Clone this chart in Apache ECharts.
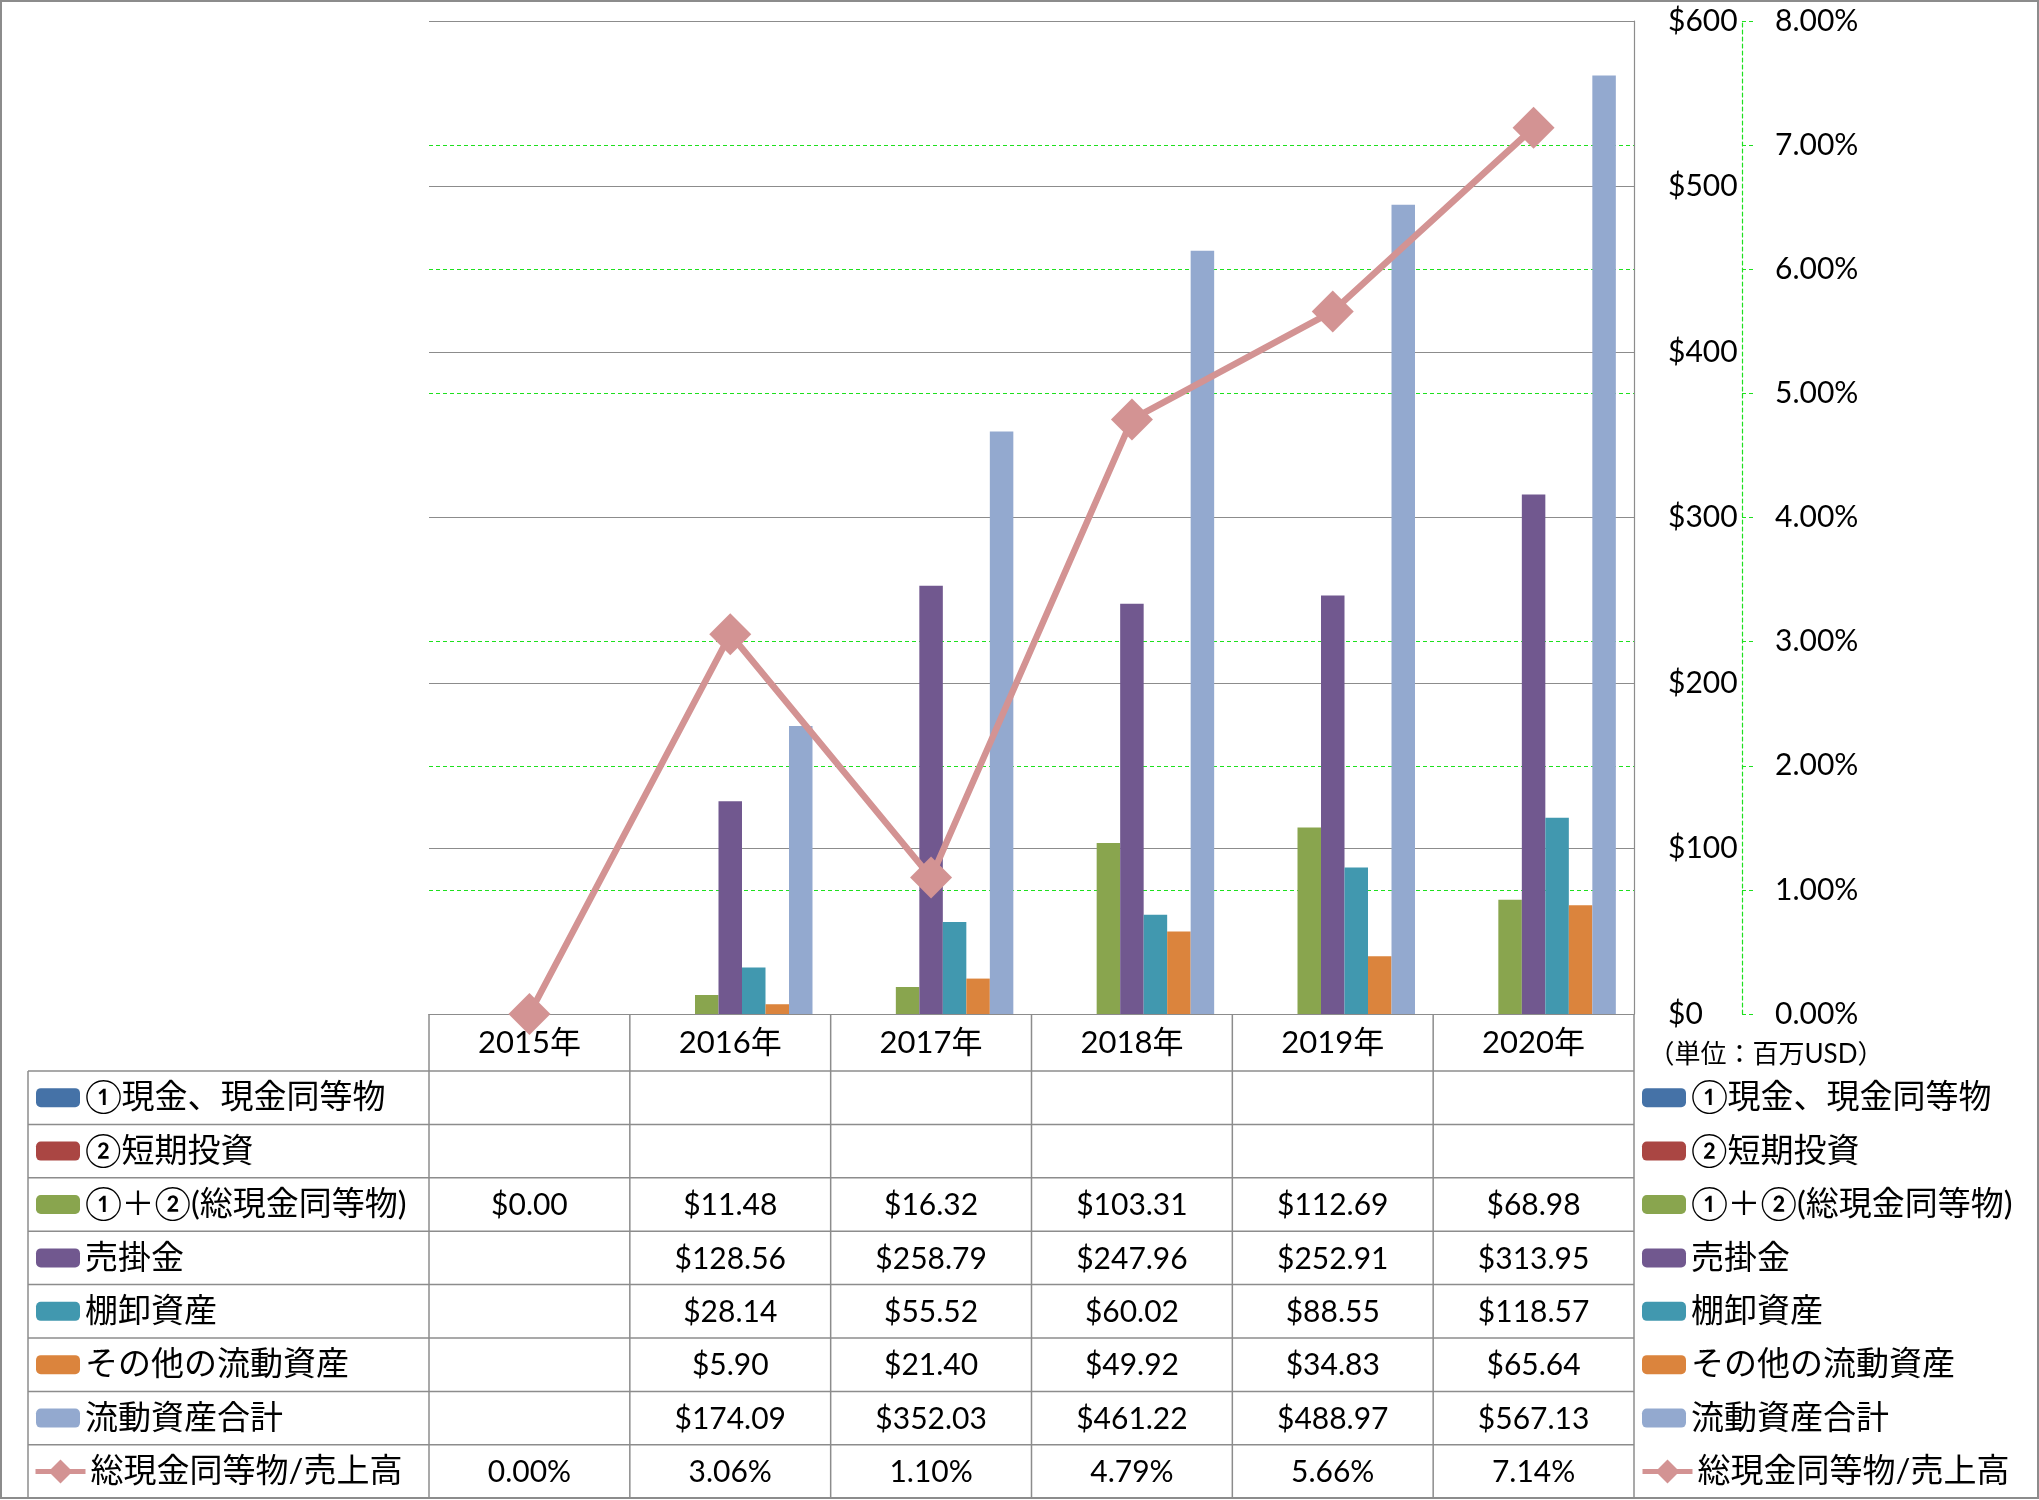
<!DOCTYPE html>
<html><head><meta charset="utf-8">
<script src="https://cdn.jsdelivr.net/npm/echarts@6/dist/echarts.min.js"></script>
<style>html,body{margin:0;padding:0;background:#fff}#c{width:2039px;height:1500px}</style>
</head><body><div id="c"></div>
<script>
const categories = ['2015年','2016年','2017年','2018年','2019年','2020年'];
const seriesNames = ['①現金、現金同等物','②短期投資','①＋②(総現金同等物)','売掛金','棚卸資産','その他の流動資産','流動資産合計','総現金同等物/売上高'];
const cashEquivalents = [null, null, null, null, null, null];
const shortTermInvestments = [null, null, null, null, null, null];
const totalCash = [0.00, 11.48, 16.32, 103.31, 112.69, 68.98];
const receivables = [null, 128.56, 258.79, 247.96, 252.91, 313.95];
const inventory = [null, 28.14, 55.52, 60.02, 88.55, 118.57];
const otherCurrentAssets = [null, 5.90, 21.40, 49.92, 34.83, 65.64];
const totalCurrentAssets = [null, 174.09, 352.03, 461.22, 488.97, 567.13];
const cashToSales = [0.00, 3.06, 1.10, 4.79, 5.66, 7.14];
const unitLabel = '（単位：百万USD）';

const colors = ['#4572A7','#AA4643','#89A54E','#71588F','#4198AF','#DB843D','#93A9CF','#D39393'];
const barData = [cashEquivalents, shortTermInvestments, totalCash, receivables, inventory, otherCurrentAssets, totalCurrentAssets];
const FONT = "Lato, 'Noto Sans CJK JP', sans-serif";
const GREEN = '#1EE01E';
const GRID = {left: 429, right: 405, top: 21, bottom: 486};
const HEADER_BOTTOM = 1071, ROW_H = 53.4, TABLE_LEFT = 28;

const chart = echarts.init(document.getElementById('c'), null, {renderer: 'canvas'});
const series = barData.map((d, i) => ({
  name: seriesNames[i], type: 'bar', data: d, barWidth: 23.5, barGap: '0%',
  itemStyle: {color: colors[i]}, yAxisIndex: 0
}));
series.push({
  name: seriesNames[7], type: 'line', data: cashToSales, yAxisIndex: 1,
  symbol: 'diamond', symbolSize: 42, z: 5,
  lineStyle: {color: colors[7], width: 6.5}, itemStyle: {color: colors[7]}
});
const textStyle = {fontSize: 33, lineHeight: 36, color: '#000', fontFamily: FONT};
const barLegend = {
  orient: 'vertical', top: HEADER_BOTTOM + (ROW_H - 36) / 2, padding: 0,
  itemGap: ROW_H - 36, itemWidth: 44, itemHeight: 19, data: seriesNames.slice(0, 7), textStyle
};
const lineLegend = {
  orient: 'vertical', top: HEADER_BOTTOM + 7 * ROW_H + (ROW_H - 36) / 2, padding: 0,
  itemWidth: 50, itemHeight: 30, data: seriesNames.slice(7), textStyle,
  lineStyle: {width: 5}
};
chart.setOption({
  animation: false,
  backgroundColor: '#fff',
  grid: GRID,
  legend: [
    Object.assign({left: 36}, barLegend), Object.assign({left: 33}, lineLegend),
    Object.assign({left: 1642}, barLegend), Object.assign({left: 1640}, lineLegend)
  ],
  xAxis: {
    type: 'category', data: categories,
    axisLine: {show: true, lineStyle: {color: '#8c8c8c', width: 1.2}},
    axisTick: {show: false},
    axisLabel: {margin: 29, verticalAlign: 'middle', fontSize: 31, color: '#000', fontFamily: FONT}
  },
  yAxis: [{
    type: 'value', position: 'right', min: 0, max: 600, interval: 100,
    axisLine: {show: true, lineStyle: {color: '#8c8c8c', width: 1.2}},
    axisTick: {show: false},
    splitLine: {show: true, lineStyle: {color: '#8c8c8c', width: 1.2}},
    axisLabel: {margin: 34, align: 'left', fontSize: 30, color: '#000', fontFamily: FONT,
      formatter: v => '$' + v}
  }, {
    type: 'value', position: 'right', offset: 108, min: 0, max: 8, interval: 1,
    axisLine: {show: true, lineStyle: {color: GREEN, width: 1.2, type: [4, 3]}},
    axisTick: {show: true, length: 11, lineStyle: {color: GREEN, width: 1.2, type: [4, 3]}},
    splitLine: {show: true, lineStyle: {color: ['transparent', GREEN, GREEN, GREEN], width: 1.2, type: [4, 3]}},
    axisLabel: {margin: 33, align: 'left', fontSize: 30, color: '#000', fontFamily: FONT,
      formatter: v => v.toFixed(2) + '%'}
  }],
  series: series
});

// Data table built from the arrays
const g = [];
const lineStyle = {stroke: '#8c8c8c', lineWidth: 1.5};
const plotBottom = chart.convertToPixel({yAxisIndex: 0}, 0);
const c0 = chart.convertToPixel({xAxisIndex: 0}, 0);
const c1 = chart.convertToPixel({xAxisIndex: 0}, 1);
const cw = c1 - c0;
const xEdges = [];
for (let i = 0; i <= categories.length; i++) xEdges.push(c0 - cw / 2 + i * cw);
const nRows = seriesNames.length;
const tableBottom = HEADER_BOTTOM + ROW_H * nRows;
for (let r = 0; r <= nRows; r++) {
  const y = HEADER_BOTTOM + ROW_H * r;
  g.push({type: 'line', shape: {x1: TABLE_LEFT, y1: y, x2: xEdges[xEdges.length - 1], y2: y}, style: lineStyle, silent: true});
}
g.push({type: 'line', shape: {x1: TABLE_LEFT, y1: HEADER_BOTTOM, x2: TABLE_LEFT, y2: tableBottom}, style: lineStyle, silent: true});
xEdges.forEach(x => g.push({type: 'line', shape: {x1: x, y1: plotBottom, x2: x, y2: tableBottom}, style: lineStyle, silent: true}));
const allData = barData.concat([cashToSales]);
allData.forEach((arr, r) => {
  const yc = HEADER_BOTTOM + ROW_H * (r + 0.5);
  arr.forEach((v, i) => {
    if (v === null || v === undefined) return;
    const txt = r === allData.length - 1 ? v.toFixed(2) + '%' : '$' + v.toFixed(2);
    const xc = chart.convertToPixel({xAxisIndex: 0}, i);
    g.push({type: 'text', x: xc, y: yc + 1, silent: true,
      style: {text: txt, fontSize: 30, fontFamily: FONT, fill: '#000', align: 'center', verticalAlign: 'middle'}});
  });
});
g.push({type: 'text', x: 1766, y: 1055, silent: true,
  style: {text: unitLabel, fontSize: 26, fontFamily: FONT, fill: '#000', align: 'center', verticalAlign: 'middle'}});
g.push({type: 'rect', shape: {x: 1, y: 1, width: 2037, height: 1497}, style: {fill: null, stroke: '#8c8c8c', lineWidth: 2}, silent: true});
chart.setOption({graphic: g});
</script>
</body></html>
